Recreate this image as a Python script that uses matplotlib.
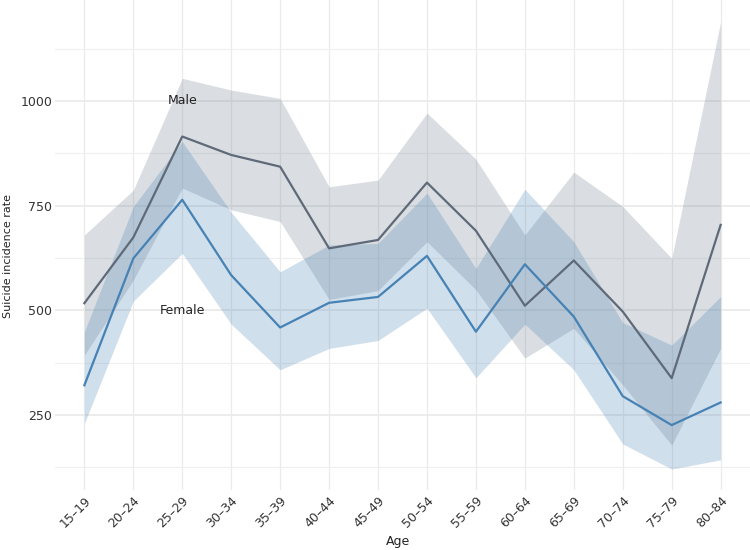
import numpy as np
import matplotlib
matplotlib.use("Agg")
import matplotlib.pyplot as plt
from matplotlib.ticker import MultipleLocator

# ---- data ----
ages = ["15–19", "20–24", "25–29", "30–34", "35–39", "40–44", "45–49",
        "50–54", "55–59", "60–64", "65–69", "70–74", "75–79", "80–84"]

male = [517, 674, 915, 871, 843, 648, 668, 805, 690, 511, 619, 497, 338, 704]
male_hi = [680, 787, 1054, 1026, 1006, 795, 811, 971, 861, 680, 830, 748, 624, 1189]
male_lo = [393, 572, 792, 740, 712, 526, 547, 664, 549, 386, 457, 322, 178, 409]

female = [321, 624, 764, 584, 459, 518, 532, 630, 449, 610, 485, 295, 226, 280]
female_hi = [449, 748, 903, 734, 592, 656, 660, 780, 600, 789, 664, 471, 417, 533]
female_lo = [230, 522, 636, 467, 358, 409, 428, 505, 339, 467, 358, 181, 121, 143]

MALE_COL = "#5f6a79"
MALE_FILL = "#708090"
FEMALE_COL = "#4682b4"

plt.rcParams["font.family"] = ["DejaVu Sans"]

W, H = 750, 550
fig = plt.figure(figsize=(7.5, 5.5), dpi=100)
ax = fig.add_axes([55 / W, 1 - 490 / H, 695 / W, 490 / H])

x = np.arange(len(ages))

ax.fill_between(x, male_lo, male_hi, color=MALE_FILL, alpha=0.26, lw=0, zorder=2)
ax.fill_between(x, female_lo, female_hi, color=FEMALE_COL, alpha=0.25, lw=0, zorder=2)
ax.plot(x, male, color=MALE_COL, lw=1.6, zorder=3)
ax.plot(x, female, color=FEMALE_COL, lw=1.6, zorder=3)

ax.text(2, 1000, "Male", ha="center", va="center", fontsize=9, color="#222222", zorder=4)
ax.text(2, 500, "Female", ha="center", va="center", fontsize=9, color="#222222", zorder=4)

ax.set_xlim(-0.6, 13.6)
ax.set_ylim(71, 1241)

ax.set_xticks(x)
ax.set_xticklabels(ages, rotation=45, ha="right", rotation_mode="anchor")
ax.yaxis.set_major_locator(MultipleLocator(250))
ax.yaxis.set_minor_locator(MultipleLocator(125))

ax.grid(True, which="major", axis="x", color="#ebebeb", lw=0.9, zorder=0)
ax.grid(True, which="major", axis="y", color="#ebebeb", lw=1.3, zorder=0)
ax.grid(True, which="minor", axis="y", color="#f0f0f0", lw=0.9, zorder=0)
ax.set_axisbelow(True)

for s in ax.spines.values():
    s.set_visible(False)
ax.tick_params(which="both", length=0, labelsize=9, colors="#333333")
ax.tick_params(axis="y", pad=2)
ax.tick_params(axis="x", pad=3)

# axis titles placed in figure pixels, as in the reference
fig.text(398 / W, 1 - 541 / H, "Age", ha="center", va="center",
         fontsize=9, color="#222222")
fig.text(8 / W, 1 - 256 / H, "Suicide incidence rate", ha="center", va="center",
         rotation=90, fontsize=8, color="#222222")

fig.savefig("out.png", dpi=100)
